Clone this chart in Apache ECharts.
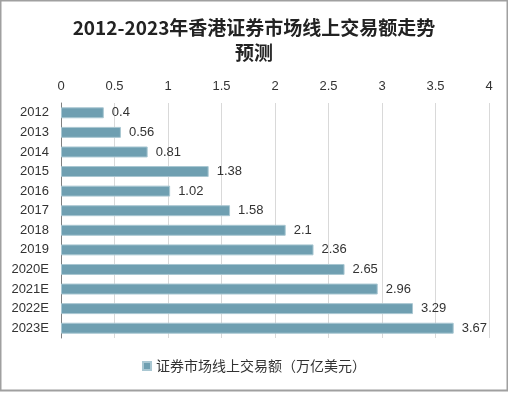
<!DOCTYPE html>
<html><head><meta charset="utf-8">
<script src="https://cdn.jsdelivr.net/npm/echarts@6/dist/echarts.min.js"></script>
<style>html,body{margin:0;padding:0;background:#fff}#c{width:508px;height:393px}</style>
</head><body><div id="c"></div>
<script>
const categories = ['2012','2013','2014','2015','2016','2017','2018','2019','2020E','2021E','2022E','2023E'];
const values = [0.4,0.56,0.81,1.38,1.02,1.58,2.1,2.36,2.65,2.96,3.29,3.67];
const seriesName = '证券市场线上交易额（万亿美元）';
const titleText = '2012-2023年香港证券市场线上交易额走势\n预测';
const chart = echarts.init(document.getElementById('c'), null, {renderer:'canvas'});
const font = '"Noto Sans CJK SC",sans-serif';
const numFont = '"Liberation Sans","Noto Sans CJK SC",sans-serif';
chart.setOption({
  animation:false,
  title:{text:titleText,left:'center',top:10,textStyle:{fontFamily:font,fontSize:19,fontWeight:'bold',color:'#222',lineHeight:25}},
  graphic:[{type:'rect',shape:{x:0.5,y:0.5,width:507,height:390},style:{fill:null,stroke:'#a0a0a0',lineWidth:2},silent:true}],
  grid:{left:61,right:19,top:103,bottom:55},
  legend:{bottom:15,left:'center',itemWidth:8,itemHeight:8,icon:'rect',textStyle:{fontFamily:font,fontSize:14,color:'#333'},data:[seriesName]},
  xAxis:{type:'value',position:'top',min:0,max:4,interval:0.5,
    axisLine:{show:false},axisTick:{show:false},
    axisLabel:{fontFamily:numFont,fontSize:13,color:'#333',margin:10},
    splitLine:{lineStyle:{color:'#d9d9d9'}}},
  yAxis:{type:'category',inverse:true,data:categories,
    axisLine:{lineStyle:{color:'#808080',width:1}},axisTick:{show:false},
    axisLabel:{fontFamily:numFont,fontSize:13,color:'#333',margin:12}},
  series:[{name:seriesName,type:'bar',data:values,barCategoryGap:'44%',
    itemStyle:{color:'#6f9fb1',borderColor:'#a9c7d2',borderWidth:1},
    label:{show:true,position:'right',distance:8,fontFamily:numFont,fontSize:13,color:'#333'}}]
});
</script></body></html>
